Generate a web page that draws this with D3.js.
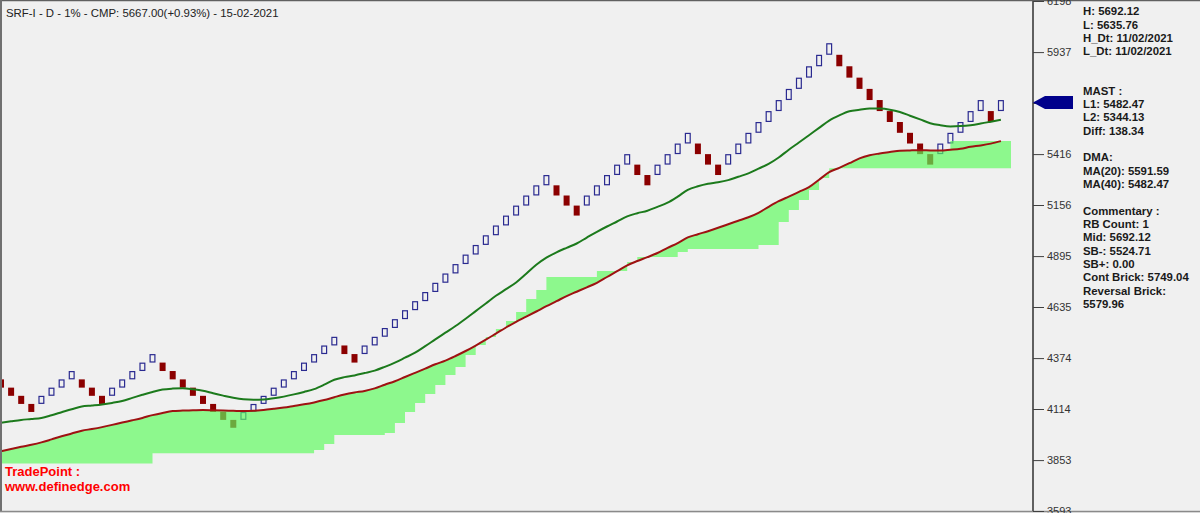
<!DOCTYPE html>
<html><head><meta charset="utf-8">
<script src="https://cdn.jsdelivr.net/npm/d3@7/dist/d3.min.js"></script>
<style>
html,body{margin:0;padding:0;background:#f0f0f0;}
svg{display:block;font-family:"Liberation Sans",Arial,sans-serif;}
</style></head>
<body>
<svg id="chart" width="1200" height="513"></svg>
<script>
// ---------------- DATA ----------------
const tickLabels = [3593, 3853, 4114, 4374, 4635, 4895, 5156, 5416, 5677, 5937, 6198];

// Renko bricks (1% box): open & close of each brick
const brickOpen = [4265.35,4223.12,4181.30,4139.90,4139.90,4181.30,4223.12,4265.35,4265.35,4223.12,
4181.30,4181.30,4223.12,4265.35,4308.00,4351.08,4351.08,4308.00,4265.35,4223.12,
4181.30,4139.90,4098.91,4058.33,4058.33,4098.91,4139.90,4181.30,4223.12,4265.35,
4308.00,4351.08,4394.59,4438.53,4438.53,4394.59,4394.59,4438.53,4482.92,4527.75,
4573.03,4618.76,4664.94,4711.59,4758.71,4806.30,4854.36,4902.90,4951.93,5001.45,
5051.46,5101.98,5153.00,5204.53,5256.57,5256.57,5204.53,5153.00,5153.00,5204.53,
5256.57,5309.14,5362.23,5362.23,5309.14,5309.14,5362.23,5415.85,5470.01,5470.01,
5415.85,5362.23,5362.23,5415.85,5470.01,5524.71,5579.96,5635.76,5692.12,5749.04,
5806.53,5864.60,5923.24,5923.24,5864.60,5806.53,5749.04,5692.12,5635.76,5579.96,
5524.71,5470.01,5415.85,5415.85,5470.01,5524.71,5579.96,5635.76,5635.76,5635.76];
const brickClose = [4223.12,4181.30,4139.90,4098.91,4181.30,4223.12,4265.35,4308.00,4223.12,4181.30,
4139.90,4223.12,4265.35,4308.00,4351.08,4394.59,4308.00,4265.35,4223.12,4181.30,
4139.90,4098.91,4058.33,4018.15,4098.91,4139.90,4181.30,4223.12,4265.35,4308.00,
4351.08,4394.59,4438.53,4482.92,4394.59,4351.08,4438.53,4482.92,4527.75,4573.03,
4618.76,4664.94,4711.59,4758.71,4806.30,4854.36,4902.90,4951.93,5001.45,5051.46,
5101.98,5153.00,5204.53,5256.57,5309.14,5204.53,5153.00,5101.98,5204.53,5256.57,
5309.14,5362.23,5415.85,5309.14,5256.57,5362.23,5415.85,5470.01,5524.71,5415.85,
5362.23,5309.14,5415.85,5470.01,5524.71,5579.96,5635.76,5692.12,5749.04,5806.53,
5864.60,5923.24,5982.47,5864.60,5806.53,5749.04,5692.12,5635.76,5579.96,5524.71,
5470.01,5415.85,5362.23,5470.01,5524.71,5579.96,5635.76,5692.12,5579.96,5692.12];

// Moving averages at each brick
const ma20 = [4043.5,4051.2,4058.3,4062.9,4068.5,4082.3,4097.7,4113.0,4126.8,4131.9,
4137.5,4145.2,4154.9,4170.7,4186.5,4201.3,4213.6,4218.2,4219.7,4214.6,
4207.0,4194.2,4182.4,4171.7,4164.0,4161.5,4162.5,4168.7,4177.3,4188.6,
4201.3,4215.6,4238.1,4263.7,4276.9,4285.6,4297.4,4310.1,4329.5,4351.0,
4376.0,4401.6,4434.8,4469.5,4503.7,4538.0,4575.2,4614.0,4652.9,4692.2,
4725.9,4760.1,4804.6,4850.5,4886.8,4914.4,4937.4,4959.3,4989.5,5019.1,
5046.2,5071.7,5097.8,5114.1,5126.9,5146.3,5167.7,5198.9,5233.6,5251.5,
5264.3,5271.9,5283.2,5300.5,5317.4,5341.9,5365.9,5398.6,5438.5,5475.2,
5512.5,5549.8,5587.1,5613.6,5634.6,5642.2,5649.4,5648.4,5642.8,5631.0,
5612.1,5593.2,5573.8,5563.6,5557.5,5559.0,5563.6,5571.8,5581.5,5591.59];
const ma40 = [3897.9,3909.7,3920.9,3931.1,3943.4,3958.7,3974.6,3988.9,4003.2,4011.8,
4021.5,4032.8,4045.0,4056.3,4068.5,4082.8,4094.1,4103.3,4105.8,4107.4,
4108.9,4107.4,4105.8,4104.8,4103.8,4104.8,4108.9,4115.0,4121.7,4129.8,
4138.0,4147.7,4159.5,4174.3,4188.1,4198.3,4206.4,4219.2,4238.1,4256.0,
4277.4,4298.9,4320.4,4342.3,4361.2,4384.7,4410.2,4438.3,4468.0,4499.1,
4530.3,4559.4,4585.4,4612.0,4639.1,4664.6,4690.7,4713.1,4735.6,4758.6,
4788.2,4817.9,4848.0,4870.0,4889.4,4910.8,4937.4,4961.4,4990.5,5006.8,
5022.2,5039.5,5057.9,5075.3,5093.2,5116.2,5146.8,5175.4,5198.9,5222.9,
5246.9,5285.2,5323.5,5346.0,5369.5,5394.5,5410.4,5419.0,5426.2,5433.3,
5434.9,5435.9,5434.9,5434.4,5438.5,5443.6,5453.3,5460.4,5469.6,5482.47];

// Shaded band: stepped edge per brick column, and optional fixed cap (else MA40)
const bandEdge = [3835.6,3835.6,3835.6,3835.6,3835.6,3835.6,3835.6,3835.6,3835.6,3835.6,
3835.6,3835.6,3835.6,3835.6,3835.6,3887.7,3887.7,3887.7,3887.7,3887.7,
3887.7,3887.7,3887.7,3887.7,3887.7,3887.7,3887.7,3887.7,3887.7,3887.7,
3887.7,3904.6,3935.2,3981.2,3981.2,3981.2,3981.2,3981.2,3991.4,4042.5,
4098.7,4144.7,4190.6,4236.6,4287.7,4328.5,4389.8,4440.9,4481.8,4522.6,
4563.5,4609.5,4675.9,4721.8,4788.2,4788.2,4788.2,4788.2,4788.2,4818.9,
4818.9,4818.9,4864.8,4890.4,4890.4,4890.4,4890.4,4915.9,4931.2,4931.2,
4931.2,4931.2,4931.2,4931.2,4931.2,4951.7,4951.7,5069.2,5130.5,5181.5,
5232.6,5293.9,5344.13,5344.13,5344.13,5344.13,5344.13,5344.13,5344.13,5344.13,
5344.13,5344.13,5344.13,5344.13,5344.13,5344.13,5344.13,5344.13,5344.13,5344.13];
const bandCap = {94:5482.47, 95:5482.47, 96:5482.47, 97:5482.47, 98:5482.47, 99:5482.47};

const arrowValue = 5680;
const titleText = "SRF-I - D - 1% - CMP: 5667.00(+0.93%) - 15-02-2021";
const panelGroups = [
  {y:11.3, lines:["H: 5692.12","L: 5635.76","H_Dt: 11/02/2021","L_Dt: 11/02/2021"]},
  {y:90.7, lines:["MAST :","L1: 5482.47","L2: 5344.13","Diff: 138.34"]},
  {y:157.3, lines:["DMA:","MA(20): 5591.59","MA(40): 5482.47"]},
  {y:210.7, lines:["Commentary :","RB Count: 1","Mid: 5692.12","SB-: 5524.71","SB+: 0.00","Cont Brick: 5749.04","Reversal Brick:","5579.96"]}
];
const footerLines = ["TradePoint :", "www.definedge.com"];

// ---------------- DRAW ----------------
const svg = d3.select("#chart");
const W = 1200, H = 513, axisX = 1033, plotBottom = 511;

svg.append("rect").attr("width", W).attr("height", H).attr("fill", "#f0f0f0");

const x = d3.scaleLinear().domain([0, 99]).range([1, 1000.9]);
const y = d3.scaleLinear().domain([3593, 6198]).range([511, 1]);

svg.append("clipPath").attr("id","plotclip").append("rect")
  .attr("x", 0).attr("y", 0).attr("width", axisX).attr("height", plotBottom);
const plot = svg.append("g").attr("clip-path","url(#plotclip)");

// bricks
const bw = 6;
const bricks = brickOpen.map((o, i) => ({i, o, c: brickClose[i], up: brickClose[i] > o}));
plot.selectAll("rect.brick").data(bricks).join("rect")
  .attr("class","brick")
  .attr("x", d => d.up ? x(d.i) - bw/2 + 0.6 : x(d.i) - bw/2)
  .attr("y", d => d.up ? y(Math.max(d.o,d.c)) + 0.6 : y(Math.max(d.o,d.c)))
  .attr("width", d => d.up ? bw - 1.2 : bw)
  .attr("height", d => d.up ? Math.abs(y(d.o) - y(d.c)) - 1.2 : Math.abs(y(d.o) - y(d.c)))
  .attr("fill", d => d.up ? "none" : "#8b0000")
  .attr("stroke", d => d.up ? "#2a2a90" : "none")
  .attr("stroke-width", 1.2);

// band
function topAt(j, t) {
  if (bandCap[j] !== undefined) return bandCap[j];
  const a = ma40[j], b = ma40[Math.min(j + 1, ma40.length - 1)];
  return a + (b - a) * (t - j);
}
const bandPts = [];
bandEdge.forEach((e, j) => {
  const xa = j === 0 ? -1 : j, xb = j + 1;
  bandPts.push({t: xa, lo: e, hi: topAt(j, xa)});
  bandPts.push({t: xb, lo: e, hi: topAt(j, xb)});
});
const area = d3.area().x(d => x(d.t)).y0(d => y(d.lo)).y1(d => y(d.hi));
plot.append("path").datum(bandPts).attr("d", area)
  .attr("fill", "rgb(92,252,92)").attr("fill-opacity", 0.67);

// MA lines
const line = d3.line().x((d, i) => x(i)).y(d => y(d)).curve(d3.curveMonotoneX);
plot.append("path").datum(ma20).attr("d", line)
  .attr("fill","none").attr("stroke","#1c7a1c").attr("stroke-width",2);
plot.append("path").datum(ma40).attr("d", line)
  .attr("fill","none").attr("stroke","#9e1212").attr("stroke-width",2);

// frame
svg.append("line").attr("x1",0).attr("x2",W).attr("y1",0.5).attr("y2",0.5).attr("stroke","#606060").attr("stroke-width",1.5);
svg.append("line").attr("x1",1).attr("x2",1).attr("y1",0).attr("y2",plotBottom).attr("stroke","#707070").attr("stroke-width",2);
svg.append("line").attr("x1",0).attr("x2",W).attr("y1",plotBottom+0.5).attr("y2",plotBottom+0.5).attr("stroke","#8a8a8a").attr("stroke-width",1.5);

// right axis
const yAxis = d3.axisRight(y).tickValues(tickLabels).tickSize(11).tickPadding(3).tickFormat(d3.format("d"));
const ag = svg.append("g").attr("transform", `translate(${axisX},0)`).call(yAxis);
ag.select(".domain").attr("stroke","#606060").attr("stroke-width",2).attr("d", `M0,0V${plotBottom}`);
ag.selectAll(".tick line").attr("stroke","#404040");
ag.selectAll(".tick text").attr("fill","#333").attr("font-size","11px").attr("font-family","Liberation Sans, Arial, sans-serif");

// price arrow
const ay = y(arrowValue);
svg.append("path")
  .attr("d", `M${axisX},${ay} L${axisX+12},${ay-6.5} L${axisX+40},${ay-6.5} L${axisX+40},${ay+6.5} L${axisX+12},${ay+6.5} Z`)
  .attr("fill","#00008b");

// title
svg.append("text").attr("x",6).attr("y",12.5).attr("dominant-baseline","central")
  .attr("font-size","11.4px").attr("fill","#222").text(titleText);

// panel
panelGroups.forEach(g => {
  g.lines.forEach((t, k) => {
    svg.append("text").attr("x",1083).attr("y", g.y + k*13.3).attr("dominant-baseline","central")
      .attr("font-size","11.4px").attr("font-weight","bold").attr("fill","#1a1a1a").text(t);
  });
});

// footer
footerLines.forEach((t, k) => {
  svg.append("text").attr("x",5).attr("y", 471.5 + k*15).attr("dominant-baseline","central")
    .attr("font-size","13px").attr("font-weight","bold").attr("fill","#ff0000").text(t);
});
</script>
</body></html>
